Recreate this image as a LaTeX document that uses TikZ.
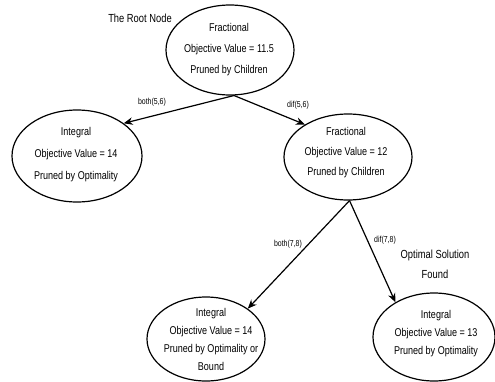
\documentclass[tikz,border=0pt]{standalone}
\usepackage{fontspec}
\setmainfont[FakeStretch=0.8]{Liberation Sans}
\usetikzlibrary{shapes.geometric,arrows.meta}
\begin{document}
\begin{tikzpicture}[x=1pt,y=-1pt,
  oval/.style={draw,ellipse,line width=1.2pt,inner sep=0pt},
  body/.style={align=center,inner sep=0pt,font=\fontsize{11.3}{#1}\selectfont},
  body/.default=21,
  tag/.style={inner sep=0pt,font=\fontsize{8.7}{10}\selectfont},
  note/.style={inner sep=0pt,align=center,font=\fontsize{11.7}{20}\selectfont},
  branch/.style={line width=1.2pt,-{Stealth[length=9pt,width=7.5pt]}}]
\useasboundingbox (0,0) rectangle (495,381);

% search-tree nodes
\node[oval,minimum width=128pt,minimum height=90pt] (root) at (230,50) {};
\node[oval,minimum width=130pt,minimum height=92pt] (left) at (77,156) {};
\node[oval,minimum width=128pt,minimum height=86pt] (mid) at (348,157) {};
\node[oval,minimum width=118pt,minimum height=84pt] (bl) at (206,339) {};
\node[oval,minimum width=122pt,minimum height=88pt] (br) at (434,337) {};

% node contents
\node[body] (rootT) at (229,50) {Fractional\\Objective Value = 11.5\\Pruned by Children};
\node[body=22] (leftT) at (76,155) {Integral\\Objective Value = 14\\Pruned by Optimality};
\node[body=20] (midT) at (346,153) {Fractional\\Objective Value = 12\\Pruned by Children};
\node[body=18] (blT) at (211,339.5) {Integral\\Objective Value = 14\\Pruned by Optimality or\\Bound};
\node[body=18] (brT) at (436,334) {Integral\\Objective Value = 13\\Pruned by Optimality};

% branches
\draw[branch] (root.-85) -- (left.35);
\draw[branch] (root.-85) -- (mid.143);
\draw[branch] (mid.-88) -- (bl.36);
\draw[branch] (mid.-88) -- (br.138);

% branch labels
\node[tag] (t1) at (152,102) {both(5,6)};
\node[tag] (t2) at (298,105) {dif(5,6)};
\node[tag] (t3) at (288,244) {both(7,8)};
\node[tag] (t4) at (385,240) {dif(7,8)};

% annotations
\node[note] (rootnote) at (140,18) {The Root Node};
\node[note] (optnote) at (435,264) {Optimal Solution\\Found};
\end{tikzpicture}
\end{document}
